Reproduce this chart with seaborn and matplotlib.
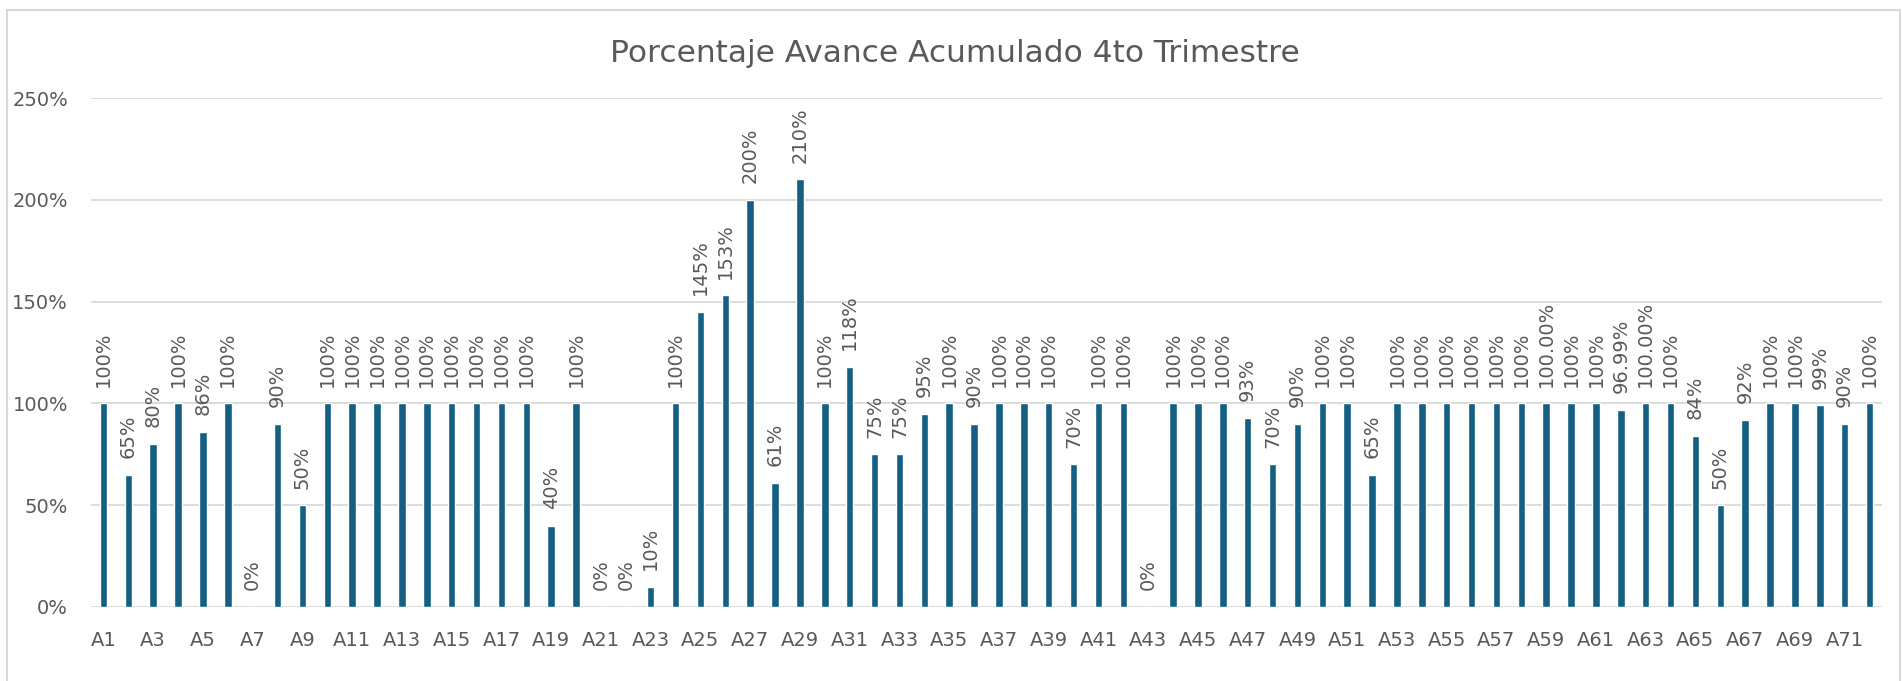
import matplotlib
matplotlib.use("Agg")
import matplotlib.pyplot as plt
import matplotlib.patches as patches
import numpy as np
import pandas as pd
import seaborn as sns

# datos
categorias = ["A" + str(i) for i in range(1, 73)]
avance = [1.00, 0.65, 0.80, 1.00, 0.86, 1.00, 0.00, 0.90, 0.50, 1.00,
          1.00, 1.00, 1.00, 1.00, 1.00, 1.00, 1.00, 1.00, 0.40, 1.00,
          0.00, 0.00, 0.10, 1.00, 1.45, 1.53, 2.00, 0.61, 2.10, 1.00,
          1.18, 0.75, 0.75, 0.95, 1.00, 0.90, 1.00, 1.00, 1.00, 0.70,
          1.00, 1.00, 0.00, 1.00, 1.00, 1.00, 0.93, 0.70, 0.90, 1.00,
          1.00, 0.65, 1.00, 1.00, 1.00, 1.00, 1.00, 1.00, 1.00, 1.00,
          1.00, 0.9699, 1.00, 1.00, 0.84, 0.50, 0.92, 1.00, 1.00, 0.99,
          0.90, 1.00]
# estas barras muestran dos decimales en la etiqueta
con_decimales = ["A59", "A62", "A63"]

etiquetas = []
for c, v in zip(categorias, avance):
    if c in con_decimales:
        etiquetas.append("%.2f%%" % (v * 100))
    else:
        etiquetas.append("%d%%" % round(v * 100))

df = pd.DataFrame({"Actividad": categorias, "Avance": avance})

sns.set_style("white")
plt.rcParams["font.family"] = ["DejaVu Sans"]
gris = "#595959"
azul = "#156082"

fig = plt.figure(figsize=(19.02, 6.81), dpi=100)
ax = fig.add_axes([91 / 1902, 74 / 681, 1791 / 1902, 509 / 681])

sns.barplot(data=df, x="Actividad", y="Avance", color=azul, saturation=1,
            width=0.3, ax=ax)

ax.bar_label(ax.containers[0], labels=etiquetas, rotation=90, padding=12,
             fontsize=14, color=gris)

ax.set_ylim(0, 2.5)
ax.set_xlim(-0.5, len(categorias) - 0.5)
ax.set_yticks(np.arange(0, 2.51, 0.5))
ax.set_yticklabels(["%d%%" % (t * 100) for t in np.arange(0, 2.51, 0.5)])
ax.set_xticks(range(0, len(categorias), 2))
ax.set_xticklabels(categorias[::2])
ax.tick_params(axis="x", length=0, pad=17, labelsize=14, colors=gris)
ax.tick_params(axis="y", length=0, pad=16.5, labelsize=14, colors=gris)
ax.set_xlabel("")
ax.set_ylabel("")

ax.yaxis.grid(True, color="#D9D9D9", linewidth=1.3)
ax.set_axisbelow(True)
for s in ax.spines.values():
    s.set_visible(False)

fig.text(955 / 1902, 1 - 62 / 681, "Porcentaje Avance Acumulado 4to Trimestre",
         ha="center", va="baseline", fontsize=22.5, color=gris)

# borde del area del grafico
borde = patches.Rectangle((7 / 1902, -0.05), 1893 / 1902, 1.05 - 10 / 681,
                          transform=fig.transFigure, fill=False,
                          edgecolor="#D9D9D9", linewidth=1.5)
fig.patches.append(borde)

plt.savefig("out.png", dpi=100)
